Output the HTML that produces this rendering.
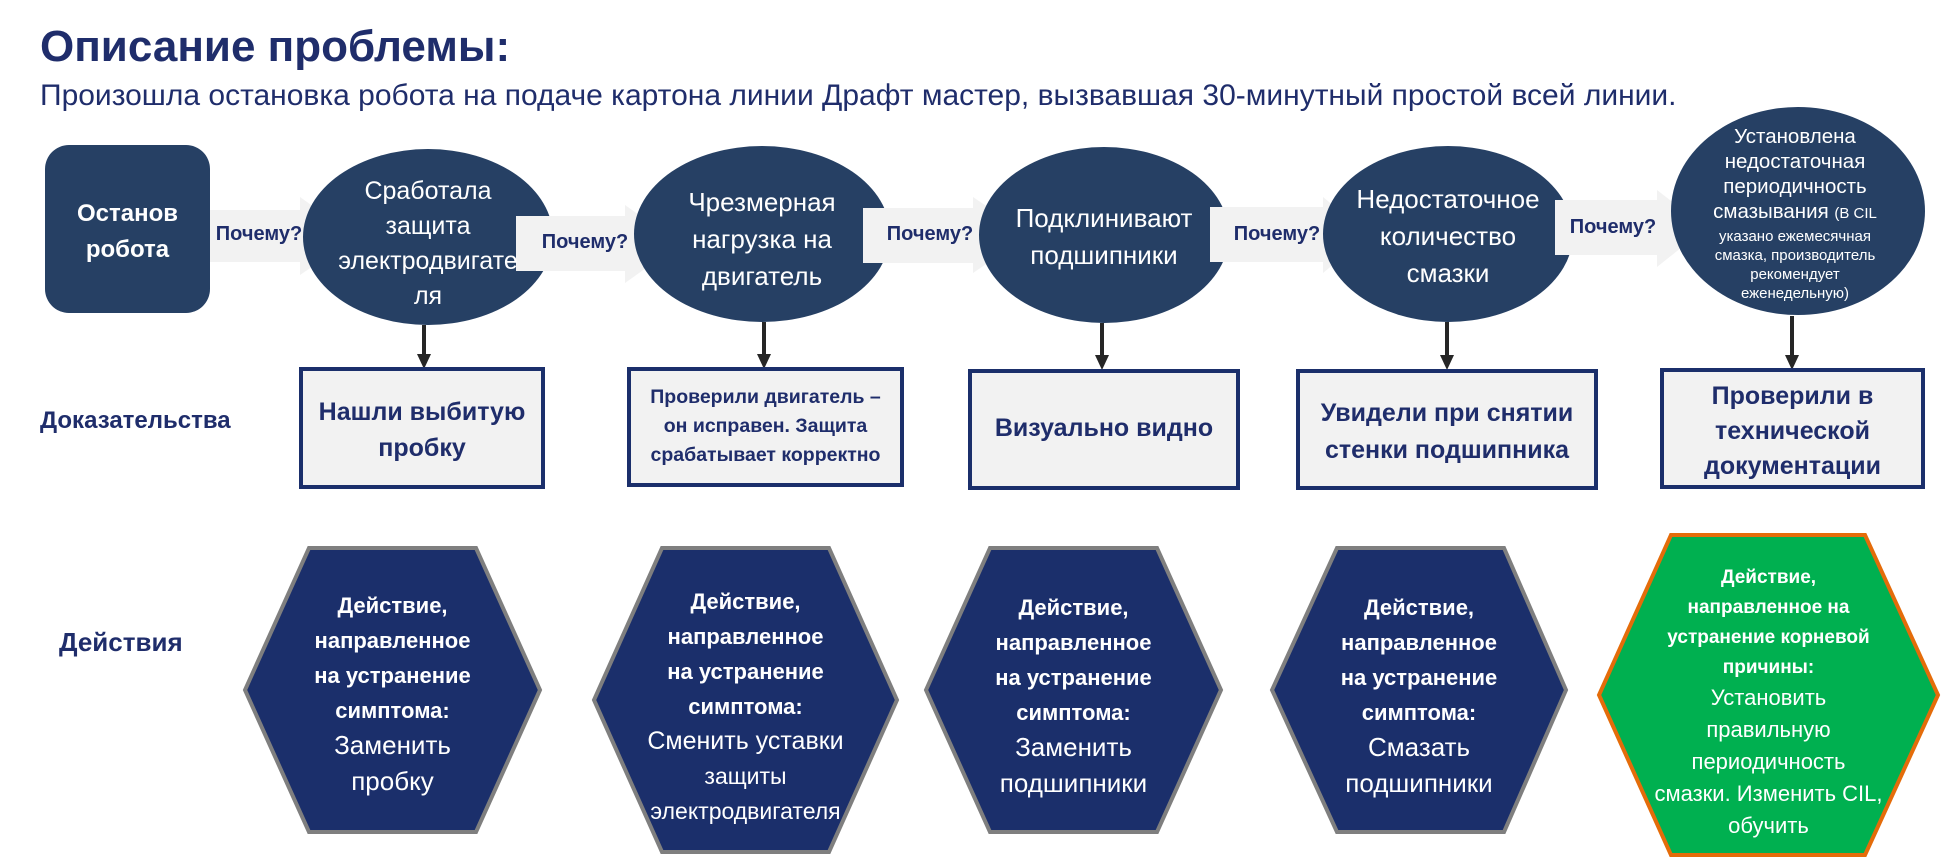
<!DOCTYPE html>
<html><head><meta charset="utf-8"><style>
body{margin:0;width:1941px;height:858px;background:#fff;position:relative;overflow:hidden;font-family:"Liberation Sans","DejaVu Sans",sans-serif}
.t{position:absolute;text-align:center;white-space:nowrap}
.w{color:#fff}
.b{color:#1f2d6b;font-weight:bold}
.n{font-weight:normal}
</style></head><body>
<svg width="1941" height="858" style="position:absolute;left:0;top:0">
<rect x="45" y="145" width="165" height="168" rx="24" fill="#264064"/>
<polygon points="210,210 300,210 300,197 356,237 300,275 300,262 210,262" fill="#f2f2f2"/>
<polygon points="516,216 625,216 625,205 680,244 625,283 625,271 516,271" fill="#f2f2f2"/>
<polygon points="863,208 973,208 973,197 1029,235 973,273 973,263 863,263" fill="#f2f2f2"/>
<polygon points="1210,207 1323,207 1323,197 1369,235 1323,273 1323,262 1210,262" fill="#f2f2f2"/>
<polygon points="1555,200 1657,200 1657,190 1706,228 1657,267 1657,255 1555,255" fill="#f2f2f2"/>
<ellipse cx="428" cy="237" rx="125" ry="88" fill="#264064"/>
<ellipse cx="762" cy="234" rx="128" ry="88" fill="#264064"/>
<ellipse cx="1104" cy="235" rx="125" ry="88" fill="#264064"/>
<ellipse cx="1448" cy="234" rx="125" ry="88" fill="#264064"/>
<ellipse cx="1798" cy="211" rx="127" ry="104" fill="#264064"/>
<polygon points="516,216 560,216 560,271 516,271" fill="#f2f2f2"/>
<polygon points="863,208 900,208 900,263 863,263" fill="#f2f2f2"/>
<polygon points="1210,207 1240,207 1240,262 1210,262" fill="#f2f2f2"/>
<polygon points="1555,200 1580,200 1580,255 1555,255" fill="#f2f2f2"/>
<g stroke="#262626" stroke-width="4">
<line x1="424" y1="325" x2="424" y2="356"/>
<line x1="764" y1="322" x2="764" y2="356"/>
<line x1="1102" y1="323" x2="1102" y2="357"/>
<line x1="1447" y1="322" x2="1447" y2="357"/>
<line x1="1792" y1="316" x2="1792" y2="357"/>
</g>
<g fill="#262626">
<polygon points="417,354 431,354 424,369"/>
<polygon points="757,354 771,354 764,369"/>
<polygon points="1095,355 1109,355 1102,370"/>
<polygon points="1440,355 1454,355 1447,370"/>
<polygon points="1785,355 1799,355 1792,370"/>
</g>
<g fill="#f2f2f2" stroke="#1b2f6b" stroke-width="4">
<rect x="301" y="369" width="242" height="118"/>
<rect x="629" y="369" width="273" height="116"/>
<rect x="970" y="371" width="268" height="117"/>
<rect x="1298" y="371" width="298" height="117"/>
<rect x="1662" y="370" width="261" height="117"/>
</g>
<g fill="#1b2f6b" stroke="#7f7f7f" stroke-width="4">
<polygon points="309,548 476,548 540,690 476,832 309,832 245,690"/>
<polygon points="662,548 829,548 897,700 829,852 662,852 594,700"/>
<polygon points="990,548 1157,548 1221,690 1157,832 990,832 926,690"/>
<polygon points="1337,548 1504,548 1566,690 1504,832 1337,832 1272,690"/>
</g>
<polygon points="1671,535 1865,535 1938,695 1865,855 1671,855 1599,695" fill="#00b050" stroke="#e46c0a" stroke-width="4"/>
</svg>

<div class="t b" style="left:40px;top:22px;font-size:44px">Описание проблемы:</div>
<div class="t" style="left:40px;top:79px;font-size:30px;color:#1f2d6b">Произошла остановка робота на подаче картона линии Драфт мастер, вызвавшая 30-минутный простой всей линии.</div>

<div class="t w" style="left:45px;width:165px;top:196px;font-size:24px;font-weight:bold;line-height:36px">Останов<br>робота</div>

<div class="t b" style="left:212px;width:94px;top:223px;font-size:20px">Почему?</div>
<div class="t b" style="left:538px;width:94px;top:231px;font-size:20px">Почему?</div>
<div class="t b" style="left:883px;width:94px;top:223px;font-size:20px">Почему?</div>
<div class="t b" style="left:1230px;width:94px;top:223px;font-size:20px">Почему?</div>
<div class="t b" style="left:1566px;width:94px;top:216px;font-size:20px">Почему?</div>

<div class="t w" style="left:298px;width:260px;top:174px;font-size:25px;line-height:35px">Сработала<br>защита<br>электродвигате<br>ля</div>
<div class="t w" style="left:637px;width:250px;top:184px;font-size:26px;line-height:37px">Чрезмерная<br>нагрузка на<br>двигатель</div>
<div class="t w" style="left:974px;width:260px;top:200px;font-size:26px;line-height:37px">Подклинивают<br>подшипники</div>
<div class="t w" style="left:1318px;width:260px;top:181px;font-size:26px;line-height:37px">Недостаточное<br>количество<br>смазки</div>
<div class="t w" style="left:1670px;width:250px;top:124px;font-size:20.5px;line-height:25px">Установлена<br>недостаточная<br>периодичность<br>смазывания <span style="font-size:15px">(В CIL</span></div>
<div class="t w" style="left:1670px;width:250px;top:227px;font-size:15px;line-height:19px">указано ежемесячная<br>смазка, производитель<br>рекомендует<br>еженедельную)</div>

<div class="t b" style="left:40px;top:407px;font-size:24px">Доказательства</div>
<div class="t b" style="left:59px;top:627px;font-size:26px">Действия</div>

<div class="t b" style="left:301px;width:242px;top:394px;font-size:25px;line-height:36px">Нашли выбитую<br>пробку</div>
<div class="t b" style="left:629px;width:273px;top:383px;font-size:19.5px;line-height:29px">Проверили двигатель –<br>он исправен. Защита<br>срабатывает корректно</div>
<div class="t b" style="left:970px;width:268px;top:414px;font-size:25px">Визуально видно</div>
<div class="t b" style="left:1298px;width:298px;top:395px;font-size:25px;line-height:37px">Увидели при снятии<br>стенки подшипника</div>
<div class="t b" style="left:1662px;width:261px;top:379px;font-size:25px;line-height:35px">Проверили в<br>технической<br>документации</div>

<div class="t w" style="left:245px;width:295px;top:588px;font-size:22px;line-height:35px"><b>Действие,<br>направленное<br>на устранение<br>симптома:</b><br><span style="font-size:26px">Заменить<br>пробку</span></div>
<div class="t w" style="left:594px;width:303px;top:584px;font-size:22px;line-height:35px"><b>Действие,<br>направленное<br>на устранение<br>симптома:</b><br><span style="font-size:25px">Сменить уставки</span><br><span style="font-size:23px">защиты<br>электродвигателя</span></div>
<div class="t w" style="left:926px;width:295px;top:590px;font-size:22px;line-height:35px"><b>Действие,<br>направленное<br>на устранение<br>симптома:</b><br><span style="font-size:26px">Заменить<br>подшипники</span></div>
<div class="t w" style="left:1272px;width:294px;top:590px;font-size:22px;line-height:35px"><b>Действие,<br>направленное<br>на устранение<br>симптома:</b><br><span style="font-size:26px">Смазать<br>подшипники</span></div>
<div class="t w" style="left:1599px;width:339px;top:563px;font-size:19px;line-height:30px"><b>Действие,<br>направленное на<br>устранение корневой<br>причины:</b><br><span style="font-size:22px">Установить<br>правильную<br>периодичность<br>смазки. Изменить CIL,<br>обучить</span></div>
</body></html>
